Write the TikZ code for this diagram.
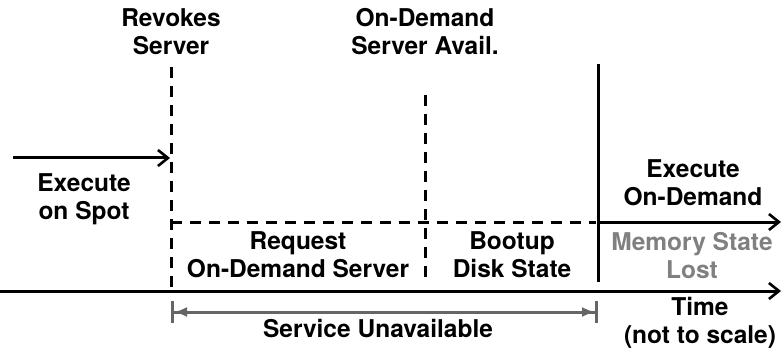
\documentclass[tikz,border=0pt]{standalone}
\usepackage{fontspec}
\setmainfont{TeX Gyre Heros}
\usetikzlibrary{arrows.meta}
\definecolor{lostgray}{gray}{0.5}
\definecolor{spangray}{gray}{0.4}
\begin{document}
\begin{tikzpicture}[x=1pt,y=-1pt,
  lbl/.style={align=center,font=\fontsize{24.5}{28}\selectfont\bfseries,inner sep=0pt},
  axisline/.style={line width=3pt,-{Straight Barb[length=10pt,width=16pt,line width=2.6pt]}},
  marker/.style={line width=3pt,dash pattern=on 11pt off 8pt},
  span/.style={line width=3pt,draw=spangray,{Bar[width=22pt]Latex[length=13pt,width=10pt]}-{Latex[length=13pt,width=10pt]Bar[width=22pt]}}
]
\useasboundingbox (0,0) rectangle (783,355);

% event markers on the time line
\coordinate (revTop) at (171,67);
\coordinate (revBot) at (171,291);
\coordinate (odTop) at (425,95);
\coordinate (odBot) at (425,282);
\coordinate (runTop) at (598,64);
\coordinate (runBot) at (598,282);
\coordinate (axL) at (0,291);
\coordinate (axR) at (781,291);
\coordinate (spotL) at (13,158);
\coordinate (spotR) at (170,158);
\coordinate (waitL) at (171,222);
\coordinate (waitR) at (596,222);
\coordinate (odR) at (781,222);
\coordinate (svcL) at (171,312);
\coordinate (svcR) at (598,312);

\draw[marker] (revTop) -- (revBot);
\draw[marker] (odTop) -- (odBot);
\draw[marker] (waitL) -- (waitR);
\draw[line width=3pt] (runTop) -- (runBot);

\draw[axisline] (axL) -- (axR);
\draw[axisline] (spotL) -- (spotR);
\draw[axisline] (runBot |- odR) -- (odR);
\draw[span] (svcL) -- (svcR);

% labels
\node[lbl] (rev) at (171,32) {Revokes\\Server};
\node[lbl] (avail) at (425,32) {On-Demand\\Server Avail.};
\node[lbl] (spot) at (84,199) {Execute\\on Spot};
\node[lbl] (req) at (298,255) {Request\\On-Demand Server};
\node[lbl] (boot) at (512,255) {Bootup\\Disk State};
\node[lbl] (exec) at (693,183) {Execute\\On-Demand};
\node[lbl,text=lostgray] (lost) at (692,256) {Memory State\\Lost};
\node[lbl] (time) at (700,323) {Time\\(not to scale)};
\node[lbl] (svc) at (378,329) {Service Unavailable};
\end{tikzpicture}
\end{document}
